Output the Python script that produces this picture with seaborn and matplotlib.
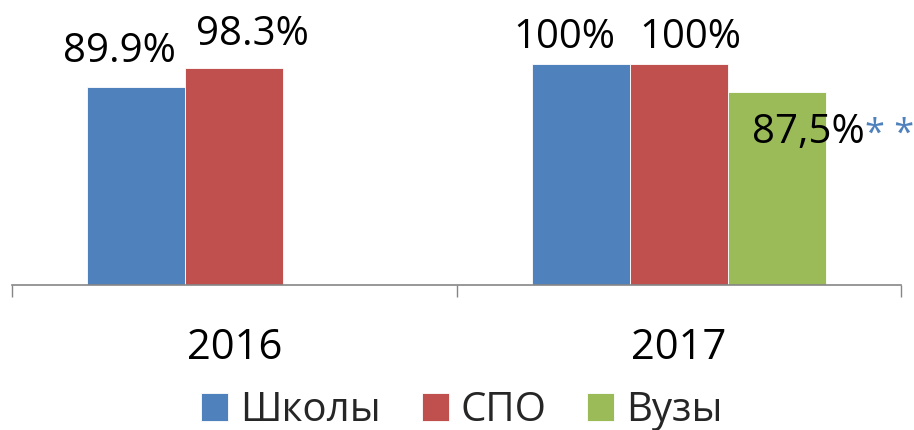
import numpy as np
import pandas as pd
import matplotlib.pyplot as plt
import seaborn as sns

# data
years = ['2016', '2017']
groups = ['Школы', 'СПО', 'Вузы']
schools = [89.9, 100.0]
spo = [98.3, 100.0]
vuzy = [np.nan, 87.5]          # no value for 2016
label_text = {
    ('Школы', '2016'): '89.9%', ('СПО', '2016'): '98.3%',
    ('Школы', '2017'): '100%', ('СПО', '2017'): '100%',
    ('Вузы', '2017'): '87,5%',
}

df = pd.DataFrame({
    'year': years * 3,
    'group': [g for g in groups for _ in years],
    'value': schools + spo + vuzy,
})

# label offsets in pixels (dx, dy of baseline from bar top)
label_off = {
    ('Школы', '2016'): (-17, 25), ('СПО', '2016'): (18, 23),
    ('Школы', '2017'): (-16, 16), ('СПО', '2017'): (12, 16),
    ('Вузы', '2017'): (32, -51),
}

BLUE, RED, GREEN = '#4F81BD', '#C0504D', '#9BBB59'
GRAY = '#868686'

sns.set_style('white')
plt.rcParams['font.family'] = ['Open Sans', 'DejaVu Sans']
FS = 29

fig = plt.figure(figsize=(9.14, 4.30), dpi=100)
ax = fig.add_axes([12 / 914, 145 / 430, 889 / 914, 275 / 430])

sns.barplot(data=df, x='year', y='value', hue='group', order=years, hue_order=groups,
            palette=[BLUE, RED, GREEN], width=0.662, gap=0, ax=ax,
            edgecolor='white', linewidth=0.6, saturation=1, errorbar=None)

handles, labels = ax.get_legend_handles_labels()
ax.get_legend().remove()

ax.set_xlim(-0.5, 1.5)
ax.set_ylim(0, 100 * 275 / 220.7)
ax.set_xlabel('')
ax.set_ylabel('')
ax.set_yticks([])
for s in ['top', 'right', 'left']:
    ax.spines[s].set_visible(False)
ax.spines['bottom'].set_color(GRAY)
ax.spines['bottom'].set_linewidth(1.2)
ax.set_xticks([-0.5, 0.5, 1.5], minor=True)
ax.tick_params(axis='x', which='minor', length=8.5, width=1.0, color=GRAY, direction='out', bottom=True)
ax.tick_params(axis='x', which='major', length=0, pad=30, labelsize=30, labelcolor='black')

px = 72 / fig.dpi
for grp, cont in zip(groups, ax.containers):
    for bar in cont:
        h = bar.get_height()
        if np.isnan(h) or h == 0:
            continue
        xc = bar.get_x() + bar.get_width() / 2
        yr = years[int(round(xc))]
        key = (grp, yr)
        dx, dy = label_off[key]
        t = ax.annotate(label_text[key], xy=(xc, h), xytext=(dx * px, dy * px),
                        textcoords='offset points', ha='center', va='baseline',
                        fontsize=FS, color='black', annotation_clip=False)
        if grp == 'Вузы':
            ax.annotate('* *', xy=(1, 0), xycoords=t, ha='left', va='bottom',
                        fontsize=FS - 3, color=BLUE)

fig.legend(handles, labels, loc='center', bbox_to_anchor=(462 / 914, 1 - 411 / 430),
           ncol=3, frameon=False, fontsize=FS, handlelength=0.67, handleheight=0.67,
           handletextpad=0.3, columnspacing=1.0, borderaxespad=0)

fig.savefig('out.png', dpi=100)
